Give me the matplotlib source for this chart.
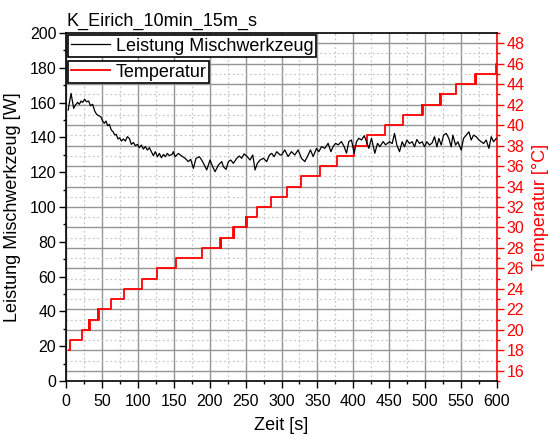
import matplotlib
matplotlib.use('Agg')
import matplotlib.pyplot as plt
from matplotlib.ticker import MultipleLocator

plt.rcParams['font.family'] = ['Liberation Sans', 'DejaVu Sans']

# Leistung Mischwerkzeug [W] ueber Zeit [s]
zeit_leistung = [
    3, 7, 10.7, 13, 16.3, 18.6, 20.9, 23.2, 26, 28.3, 31.6, 33.9, 37.1, 39.9,
    42.7, 45.5, 48.3, 51.1, 53.4, 55.7, 58, 60.4, 63.1, 65.5, 67.8, 70.1, 72.4,
    74.8, 77.1, 79.9, 82.6, 85.4, 88.2, 91, 93.8, 96.6, 99.4, 102.1, 104.9,
    107.7, 110.5, 113.3, 116.1, 118.9, 121.6, 124.4, 127.2, 130, 132.8, 135.6,
    138.4, 141.1, 143.9, 147.6, 149.4, 151.8, 156.4, 161.1, 165.7, 170.3,
    173.6, 177.3, 181, 185.7, 188.9, 192.6, 195.9, 200.5, 204.2, 207.5, 212.1,
    216.8, 219.1, 222.8, 226.1, 229.3, 233, 237.7, 241.4, 244.6, 247.9, 252.5,
    256.2, 260, 263.2, 266.4, 270.2, 274.8, 279.4, 283.2, 286.4, 289.7, 293.4,
    298, 300, 304.6, 309.2, 313.9, 318.5, 323.2, 327.8, 332.4, 337.1, 340.3,
    344.1, 348.7, 352, 355.7, 360.3, 364.9, 368.7, 371.9, 375.2, 378.9, 383.5,
    387.2, 390.5, 393.7, 397.4, 401.2, 404.4, 407.7, 411.4, 415.1, 418.3,
    421.6, 425.3, 429.9, 433.7, 436.9, 441.6, 444.8, 450.3, 454.1, 457.3,
    460.6, 464.3, 468, 471.2, 474.5, 478.2, 481.9, 485.2, 488.4, 492.1, 495.9,
    499.1, 502.3, 506.1, 509.8, 513, 516.3, 519.1, 522.3, 525.6, 529.3, 533,
    536.2, 538.6, 542.3, 545.5, 550.2, 553.4, 557.1, 560.9, 564.1, 567.3,
    571.1, 574.8, 578, 581.3, 585, 588.7, 592, 595.2, 598.9,
]
leistung = [
    155.7, 165.3, 156.7, 158.6, 160.1, 159.0, 160.9, 160.1, 162.0, 160.5,
    160.9, 158.2, 159.0, 155.2, 153.2, 152.5, 151.9, 149.4, 148.1, 149.4,
    146.7, 147.5, 144.2, 143.3, 141.4, 141.7, 139.1, 139.8, 137.9, 139.1,
    137.9, 140.4, 139.4, 136.0, 137.1, 135.2, 136.0, 134.1, 135.6, 133.3,
    134.7, 132.7, 134.1, 131.8, 129.5, 131.8, 128.9, 130.8, 128.3, 130.2,
    128.9, 130.8, 129.5, 130.2, 131.8, 128.9, 130.8, 129.3, 128.0, 126.1,
    127.4, 122.2, 128.0, 128.9, 127.0, 124.1, 121.3, 127.0, 123.2, 120.3,
    124.1, 126.1, 123.2, 121.6, 126.1, 127.0, 125.1, 128.0, 129.3, 128.0,
    130.5, 128.9, 127.0, 129.9, 121.3, 125.1, 127.0, 128.0, 126.1, 129.9,
    130.8, 128.9, 131.8, 129.9, 129.9, 132.8, 129.0, 131.8, 129.9, 132.8,
    128.0, 126.1, 129.9, 132.8, 129.0, 133.7, 131.8, 134.7, 133.7, 136.6,
    131.8, 134.7, 136.6, 135.7, 137.6, 134.7, 130.9, 137.6, 138.5, 130.9,
    137.6, 139.5, 138.5, 141.0, 137.6, 133.7, 139.5, 130.9, 136.6, 134.7,
    137.6, 135.7, 137.5, 136.5, 142.3, 135.6, 131.8, 137.5, 134.6, 138.5,
    136.5, 137.5, 134.6, 138.8, 136.5, 137.5, 134.6, 137.5, 135.6, 136.9,
    140.4, 134.6, 139.4, 135.6, 141.3, 142.3, 139.4, 134.6, 141.3, 135.6,
    137.5, 132.7, 139.4, 141.3, 143.2, 138.5, 141.3, 140.4, 138.5, 137.5,
    136.5, 138.5, 133.7, 140.4, 137.5, 139.4,
]

# Temperatur [°C] ueber Zeit [s] (Stufen, mit kurzem Flackern an den Uebergaengen)
zeit_temp = [
    4, 5, 22, 32, 32.7, 33.4, 44, 44.7, 45.4, 62, 81, 106, 126, 153, 190,
    215, 215.7, 216.4, 233, 233.7, 234.4, 250, 250.7, 251.4, 266, 285, 308,
    327, 353, 377, 401, 419, 444, 469, 495, 495.7, 496.4, 520, 520.7, 521.4,
    543, 570, 570.7, 571.4, 598, 600,
]
temperatur = [
    18, 19, 20, 21, 20, 21, 22, 21, 22, 23, 24, 25, 26, 27, 28,
    29, 28, 29, 30, 29, 30, 31, 30, 31, 32, 33, 34,
    35, 36, 37, 38, 39, 40, 41, 42, 41, 42, 43, 42, 43,
    44, 45, 44, 45, 46, 46,
]

fig = plt.figure(figsize=(5.48, 4.36), dpi=100)
ax = fig.add_axes([66 / 548, 1 - 381 / 436, 431 / 548, 348 / 436])
ax2 = ax.twinx()
ax.set_zorder(ax2.get_zorder() + 1)
ax.patch.set_visible(False)

# Temperatur (rechte Achse), Gitter haengt an dieser Achse
ax2.plot(zeit_temp, temperatur, color='red', lw=1.3, drawstyle='steps-post',
         label='Temperatur')
ax2.set_ylim(15, 49)
ax2.yaxis.set_major_locator(MultipleLocator(2))
ax2.yaxis.set_minor_locator(MultipleLocator(1))
ax2.xaxis.set_visible(True)
ax2.xaxis.set_major_locator(MultipleLocator(50))
ax2.xaxis.set_minor_locator(MultipleLocator(25))
ax2.tick_params(axis='x', which='both', bottom=False, top=False,
                labelbottom=False, labeltop=False)
ax2.grid(which='major', color='#959595', lw=1.0, ls='-')
ax2.grid(which='minor', color='#c8c8c8', lw=0.9, ls=(0, (1.5, 2)))
ax2.set_ylabel('Temperatur [°C]', color='red', fontsize=13, labelpad=5)
ax2.tick_params(axis='y', which='major', colors='red', direction='out',
                length=5, width=1, labelsize=11.5, pad=2)
ax2.tick_params(axis='y', which='minor', colors='red', direction='out',
                length=2.5, width=1)
ax2.spines['right'].set_color('red')
ax2.spines['right'].set_linewidth(1.2)

# Leistung (linke Achse)
ax.plot(zeit_leistung, leistung, color='black', lw=0.9,
        label='Leistung Mischwerkzeug')
ax.set_xlim(0, 600)
ax.set_ylim(0, 200)
ax.xaxis.set_major_locator(MultipleLocator(50))
ax.xaxis.set_minor_locator(MultipleLocator(25))
ax.yaxis.set_major_locator(MultipleLocator(20))
ax.yaxis.set_minor_locator(MultipleLocator(10))
ax.tick_params(which='major', direction='out', length=5, width=1,
               labelsize=11.5, pad=2)
ax.tick_params(which='minor', direction='out', length=2.5, width=1)
ax.tick_params(axis='x', which='major', pad=4)
ax.set_xlabel('Zeit [s]', fontsize=13, labelpad=6)
ax.set_ylabel('Leistung Mischwerkzeug [W]', fontsize=13, labelpad=6)
for side in ['left', 'bottom', 'top']:
    ax.spines[side].set_linewidth(1.2)
ax.spines['right'].set_visible(False)
ax2.spines['left'].set_visible(False)
ax2.spines['top'].set_visible(False)
ax2.spines['bottom'].set_visible(False)

ax.set_title('K_Eirich_10min_15m_s', loc='left', fontsize=13, pad=5)

# zwei getrennte Legenden wie im Original
leg1 = ax.legend(loc='upper left', bbox_to_anchor=(68 / 548, 1 - 35 / 436),
                 bbox_transform=fig.transFigure, fontsize=13, frameon=True,
                 fancybox=False, edgecolor='black', framealpha=1,
                 borderpad=0.15, borderaxespad=0, handlelength=2.15,
                 handletextpad=0.35)
leg1.get_frame().set_linewidth(1.2)
ax.add_artist(leg1)
leg2 = ax.legend(handles=ax2.get_lines(), loc='upper left',
                 bbox_to_anchor=(68 / 548, 1 - 61 / 436),
                 bbox_transform=fig.transFigure, fontsize=13, frameon=True,
                 fancybox=False, edgecolor='black', framealpha=1,
                 borderpad=0.15, borderaxespad=0, handlelength=2.15,
                 handletextpad=0.35)
leg2.get_frame().set_linewidth(1.2)

fig.savefig('out.png', dpi=100)
